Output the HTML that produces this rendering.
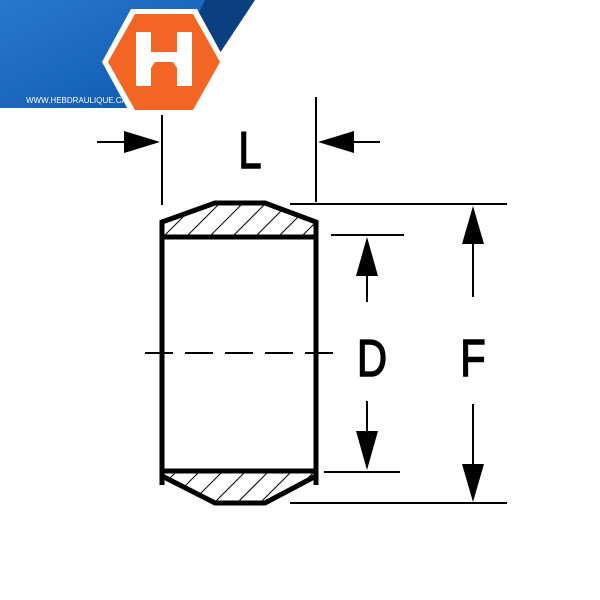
<!DOCTYPE html>
<html><head><style>
html,body{margin:0;padding:0;background:#fff;width:600px;height:600px;overflow:hidden}
</style></head><body>
<svg width="600" height="600" viewBox="0 0 600 600" xmlns="http://www.w3.org/2000/svg">
<defs>
<linearGradient id="bg" x1="0" y1="0" x2="1" y2="1">
<stop offset="0" stop-color="#2a78cc"/><stop offset="1" stop-color="#0b56b0"/>
</linearGradient>
<clipPath id="hc"><polygon points="162,222 215,203 265,203 316,222 316,237 162,237"/><polygon points="162,471 316,471 316,478 265,503 215,503 162,478"/></clipPath>
</defs>
<polygon points="0,0 215,0 140,108 0,108" fill="url(#bg)"/>
<polygon points="205,0 255,0 218,56 192,28" fill="#0a3f80"/>
<polygon points="102,62 131,9 197,9 226,62 197,115 131,115" fill="#fff"/>
<polygon points="108,62 135,14 193,14 220,62 193,110 135,110" fill="#f26522"/>
<path d="M136,32 h15 v20 h26 v-20 h15 v54 h-15 v-18 l-4,-6 h-18 l-4,6 v18 h-15 z" fill="#fff"/>
<text x="26" y="103" font-family="Liberation Sans, sans-serif" font-size="8" fill="#fff">WWW.HEBDRAULIQUE.CA</text>
<g clip-path="url(#hc)" stroke="#000" stroke-width="1">
<line x1="160" y1="240" x2="200" y2="200"/><line x1="183" y1="240" x2="223" y2="200"/><line x1="206" y1="240" x2="246" y2="200"/><line x1="229" y1="240" x2="269" y2="200"/><line x1="252" y1="240" x2="292" y2="200"/><line x1="275" y1="240" x2="315" y2="200"/><line x1="298" y1="240" x2="338" y2="200"/>
<g transform="translate(0,268)"><line x1="140" y1="240" x2="180" y2="200"/><line x1="163" y1="240" x2="203" y2="200"/><line x1="186" y1="240" x2="226" y2="200"/><line x1="209" y1="240" x2="249" y2="200"/><line x1="232" y1="240" x2="272" y2="200"/><line x1="255" y1="240" x2="295" y2="200"/><line x1="278" y1="240" x2="318" y2="200"/><line x1="301" y1="240" x2="341" y2="200"/></g>
</g>
<g fill="none" stroke="#000" stroke-width="5" stroke-linejoin="miter">
<polyline points="162,485 162,222 215,203 265,203 316,222 316,485"/>
<polyline points="162,476 215,503 265,503 316,476"/>
<line x1="162" y1="237" x2="316" y2="237"/>
<line x1="162" y1="471" x2="316" y2="471"/>
</g>
<g stroke="#000" stroke-width="2" fill="none">
<line x1="162" y1="115" x2="162" y2="205"/>
<line x1="316" y1="97" x2="316" y2="202"/>
<line x1="97" y1="142" x2="140" y2="142"/>
<line x1="340" y1="142" x2="380" y2="142"/>
<line x1="290" y1="204" x2="507" y2="204"/>
<line x1="290" y1="503" x2="507" y2="503"/>
<line x1="331" y1="235" x2="404" y2="235"/>
<line x1="324" y1="472" x2="400" y2="472"/>
<line x1="367" y1="270" x2="367" y2="302"/>
<line x1="367" y1="401" x2="367" y2="435"/>
<line x1="473" y1="240" x2="473" y2="297"/>
<line x1="473" y1="404" x2="473" y2="468"/>
<line x1="145" y1="353" x2="335" y2="353" stroke-dasharray="28,12"/>
</g>
<g fill="#000">
<polygon points="160,142 124,131 124,153"/>
<polygon points="318,142 354,131 354,153"/>
<polygon points="367,237 356,276 378,276"/>
<polygon points="367,470 356,431 378,431"/>
<polygon points="473,206 462,244 484,244"/>
<polygon points="473,502 462,464 484,464"/>
</g>
<g font-family="Liberation Sans, sans-serif" font-size="52" fill="#000" stroke="#000" stroke-width="1.5" text-anchor="middle">
<text x="0" y="0" transform="translate(250,168) scale(0.8,1)">L</text>
<text x="0" y="0" transform="translate(372,376) scale(0.8,1)">D</text>
<text x="0" y="0" transform="translate(473,376) scale(0.8,1)">F</text>
</g>
</svg>
</body></html>
